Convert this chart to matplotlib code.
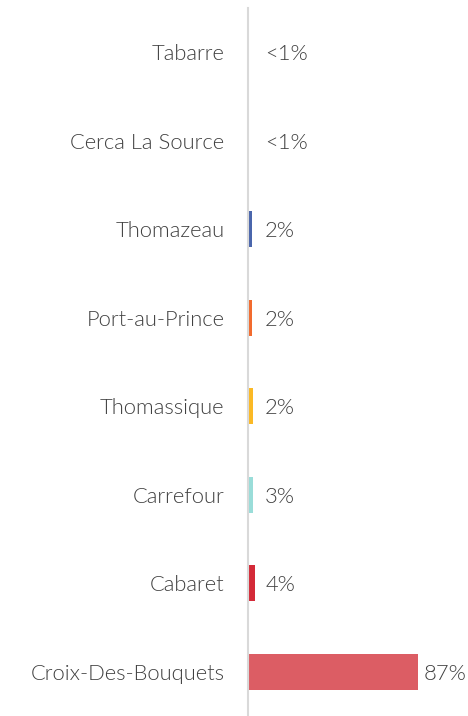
import matplotlib
matplotlib.use("Agg")
import matplotlib.pyplot as plt

categories = ["Tabarre", "Cerca La Source", "Thomazeau", "Port-au-Prince",
              "Thomassique", "Carrefour", "Cabaret", "Croix-Des-Bouquets"]
values = [0, 0, 1.8, 2.2, 2.5, 2.8, 3.8, 87]
value_labels = ["<1%", "<1%", "2%", "2%", "2%", "3%", "4%", "87%"]
colors = ["#4a66ac", "#4a66ac", "#4a66ac", "#f26b2e", "#fbb925",
          "#9addd9", "#d42a38", "#dc5d64"]

plt.rcParams['font.family'] = ['Lato', 'DejaVu Sans']

W, H = 468, 716
fig = plt.figure(figsize=(W / 100, H / 100), dpi=100)
left_px, top_px = 248, 8
ax = fig.add_axes([left_px / W, 0, (W - left_px) / W, (H - top_px) / H])

y = list(range(len(categories)))
ax.barh(y, values, height=0.41, color=colors, zorder=2)
ax.set_xlim(0, (W - left_px) / 1.95)
ax.set_ylim(len(categories) - 0.5, -0.5)

text_color = "#404040"
fw = 300
for i, (v, lab) in enumerate(zip(values, value_labels)):
    ax.text(max(v + 3, 8.8), i + 0.02, lab, ha="left", va="center",
            fontsize=15.8, fontweight=fw, color=text_color)

ax.set_yticks(y)
ax.set_yticklabels(categories, fontsize=15.8, fontweight=fw, color=text_color)
ax.tick_params(axis="y", length=0, pad=17)
ax.set_xticks([])
for s in ["top", "right", "bottom"]:
    ax.spines[s].set_visible(False)
ax.spines["left"].set_color("#d9d9d9")
ax.spines["left"].set_linewidth(1.5)

fig.savefig("out.png", dpi=100, facecolor="white")
